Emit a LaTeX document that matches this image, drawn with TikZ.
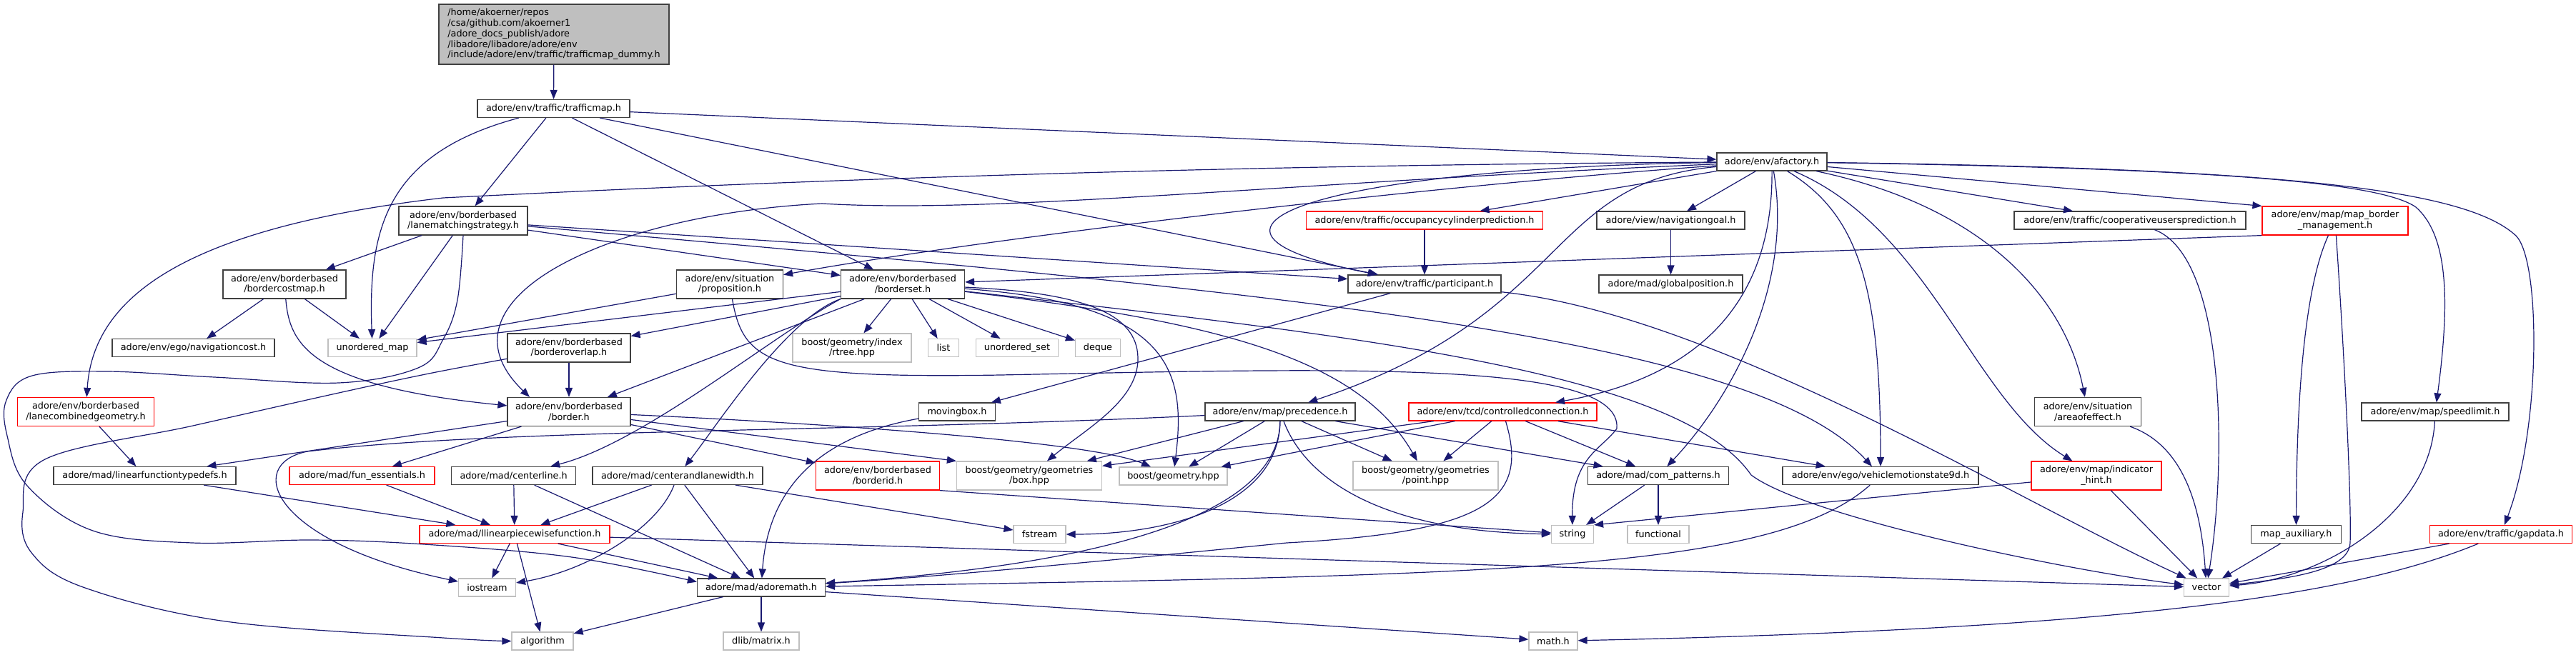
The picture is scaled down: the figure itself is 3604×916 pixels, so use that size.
\documentclass[tikz,border=0pt]{standalone}
\usepackage{fontspec}
\setmainfont{DejaVu Sans}
\usetikzlibrary{arrows.meta,calc}
\definecolor{edgeblue}{HTML}{191970}
\definecolor{sysgray}{HTML}{BFBFBF}
\tikzstyle{hdr} = [rectangle, draw=black!75, fill=white, line width=1.2pt, inner sep=0pt, align=center, minimum height=25pt]
\tikzstyle{tall} = [minimum height=40pt]
\tikzstyle{trunc} = [hdr, draw=red]
\tikzstyle{sys} = [hdr, draw=sysgray]
\tikzstyle{arrow} = [edgeblue, line width=1.2pt, -{Triangle[length=13pt,width=10pt]}]

\begin{document}
\begin{tikzpicture}[x=1pt, y=-1pt, font=\fontsize{12.8}{14.8}\selectfont]
    \useasboundingbox (0,0) rectangle (3604,916);
    \fill[white] (0,0) rectangle (3604,916);

    \node[hdr, fill=sysgray, align=left, minimum width=322pt, minimum height=84pt] (root) at (775,48) {/home/akoerner/repos\\/csa/github.com/akoerner1\\/adore\_docs\_publish/adore\\/libadore/libadore/adore/env\\/include/adore/env/traffic/trafficmap\_dummy.h};
    \node[hdr, minimum width=213pt] (trafficmap) at (774.5,152) {adore/env/traffic/trafficmap.h};
    \node[hdr, tall, minimum width=180pt] (lanematch) at (648,309) {adore/env/borderbased\\/lanematchingstrategy.h};
    \node[hdr, tall, minimum width=172pt] (costmap) at (398,398) {adore/env/borderbased\\/bordercostmap.h};
    \node[hdr, tall, minimum width=149pt] (proposition) at (1021,398) {adore/env/situation\\/proposition.h};
    \node[hdr, tall, minimum width=173pt] (borderset) at (1263,398) {adore/env/borderbased\\/borderset.h};
    \node[hdr, minimum width=154pt] (afactory) at (2479,226.5) {adore/env/afactory.h};
    \node[trunc, minimum width=331pt] (occupancy) at (1993,308.5) {adore/env/traffic/occupancycylinderprediction.h};
    \node[hdr, minimum width=207pt] (navgoal) at (2337.5,308.5) {adore/view/navigationgoal.h};
    \node[hdr, minimum width=324pt] (coopusers) at (2980,308.5) {adore/env/traffic/cooperativeusersprediction.h};
    \node[trunc, tall, minimum width=204pt] (mapborder) at (3267,309) {adore/env/map/map\_border\\\_management.h};
    \node[hdr, minimum width=214pt] (participant) at (1993,397.5) {adore/env/traffic/participant.h};
    \node[hdr, minimum width=201pt] (globalpos) at (2337.5,397.5) {adore/mad/globalposition.h};
    \node[hdr, minimum width=227pt] (navcost) at (270.5,487) {adore/env/ego/navigationcost.h};
    \node[sys, minimum width=124pt] (umap) at (521,487) {unordered\_map};
    \node[hdr, tall, minimum width=172pt] (overlap) at (796,487) {adore/env/borderbased\\/borderoverlap.h};
    \node[sys, tall, minimum width=166pt] (rtree) at (1192,487) {boost/geometry/index\\/rtree.hpp};
    \node[sys, minimum width=43pt] (list) at (1320,487) {list};
    \node[sys, minimum width=115pt] (uset) at (1423,487) {unordered\_set};
    \node[sys, minimum width=63pt] (deque) at (1536,487) {deque};
    \node[trunc, tall, minimum width=191pt] (lanecomb) at (120,576.5) {adore/env/borderbased\\/lanecombinedgeometry.h};
    \node[hdr, tall, minimum width=172pt] (border) at (796,576.5) {adore/env/borderbased\\/border.h};
    \node[hdr, minimum width=107pt] (movingbox) at (1339,576.5) {movingbox.h};
    \node[hdr, minimum width=210pt] (precedence) at (1791,576.5) {adore/env/map/precedence.h};
    \node[trunc, minimum width=263pt] (controlled) at (2102.5,576.5) {adore/env/tcd/controlledconnection.h};
    \node[hdr, tall, minimum width=149pt] (areaeffect) at (2921,576.5) {adore/env/situation\\/areaofeffect.h};
    \node[hdr, minimum width=206pt] (speedlimit) at (3407,576.5) {adore/env/map/speedlimit.h};
    \node[hdr, minimum width=255pt] (lintypedefs) at (202.5,666) {adore/mad/linearfunctiontypedefs.h};
    \node[trunc, minimum width=203pt] (funess) at (506.5,666) {adore/mad/fun\_essentials.h};
    \node[hdr, minimum width=174pt] (centerline) at (718.6,666) {adore/mad/centerline.h};
    \node[hdr, minimum width=238pt] (centerwidth) at (948,666) {adore/mad/centerandlanewidth.h};
    \node[trunc, tall, minimum width=173pt] (borderid) at (1228,666) {adore/env/borderbased\\/borderid.h};
    \node[sys, tall, minimum width=203pt] (boxhpp) at (1440,666) {boost/geometry/geometries\\/box.hpp};
    \node[sys, minimum width=151pt] (geomhpp) at (1641.5,666.5) {boost/geometry.hpp};
    \node[sys, tall, minimum width=203pt] (pointhpp) at (1994.5,666) {boost/geometry/geometries\\/point.hpp};
    \node[hdr, minimum width=197pt] (compatterns) at (2320,666) {adore/mad/com\_patterns.h};
    \node[hdr, minimum width=274pt] (motionstate) at (2631,666) {adore/env/ego/vehiclemotionstate9d.h};
    \node[trunc, tall, minimum width=182pt] (indicator) at (2933,666) {adore/env/map/indicator\\\_hint.h};
    \node[trunc, minimum width=266pt] (piecewise) at (720,748) {adore/mad/llinearpiecewisefunction.h};
    \node[sys, minimum width=73pt] (fstream) at (1454.5,748) {fstream};
    \node[sys, minimum width=59pt] (string) at (2200,748) {string};
    \node[sys, minimum width=86pt] (functional) at (2320,748) {functional};
    \node[hdr, minimum width=126pt] (mapaux) at (3212.5,748) {map\_auxiliary.h};
    \node[trunc, minimum width=199pt] (gapdata) at (3499,748) {adore/env/traffic/gapdata.h};
    \node[sys, minimum width=80pt] (iostream) at (681.5,822.5) {iostream};
    \node[hdr, minimum width=179pt] (adoremath) at (1065,822.5) {adore/mad/adoremath.h};
    \node[sys, minimum width=63pt] (vector) at (3087,822.5) {vector};
    \node[sys, minimum width=86pt] (algorithm) at (759,897.5) {algorithm};
    \node[sys, minimum width=106pt] (dlib) at (1065,897.5) {dlib/matrix.h};
    \node[sys, minimum width=68pt] (mathh) at (2173,897.5) {math.h};

    \draw[arrow] (root) -- (trafficmap);
    \draw[arrow] (trafficmap) .. controls (540,215) and (515,320) .. (umap);
    \draw[arrow] (trafficmap) -- (lanematch);
    \draw[arrow] (trafficmap) -- (borderset);
    \draw[arrow] (trafficmap) -- (participant);
    \draw[arrow] (trafficmap) -- (afactory);

    \draw[arrow] (lanematch) -- (costmap);
    \draw[arrow] (lanematch) -- (umap);
    \draw[arrow] (lanematch) -- (borderset);
    \draw[arrow] (lanematch) -- (participant);
    \draw[arrow] (lanematch) .. controls (1800,410) and (2450,470) .. (motionstate);
    \draw[arrow] plot[smooth, tension=0.6] coordinates {(lanematch.south) (640,420) (620,475) (585,515) (474,536) (300,528) (150,520) (45,526) (9,560) (10,610) (38,680) (130,743) (269,760) (435,756) (593,762) (800,780) (adoremath.175)};

    \draw[arrow] (costmap) -- (navcost);
    \draw[arrow] (costmap) -- (umap);
    \draw[arrow] (costmap) .. controls (405,480) and (430,540) .. (border);

    \draw[arrow] (afactory) .. controls (1600,232) and (1000,258) .. (620,277) .. controls (250,320) and (130,420) .. (lanecomb);
    \draw[arrow] (afactory) .. controls (1800,255) and (1400,300) .. (1150,285) .. controls (850,300) and (600,420) .. ($(border.north)+(-55,0)$);
    \draw[arrow] (afactory) .. controls (2000,260) and (1400,330) .. (proposition);
    \draw[arrow] (afactory) -- (occupancy);
    \draw[arrow] (afactory) .. controls (1850,235) and (1600,320) .. (participant);
    \draw[arrow] (afactory) -- (navgoal);
    \draw[arrow] (afactory) .. controls (2160,255) and (2200,440) .. (precedence);
    \draw[arrow] (afactory) .. controls (2480,380) and (2420,520) .. (controlled);
    \draw[arrow] (afactory) .. controls (2510,400) and (2420,560) .. (compatterns);
    \draw[arrow] (afactory) .. controls (2600,300) and (2631,400) .. (motionstate);
    \draw[arrow] (afactory) .. controls (2700,320) and (2760,560) .. (indicator);
    \draw[arrow] (afactory) .. controls (2780,290) and (2890,420) .. (areaeffect);
    \draw[arrow] (afactory) -- (coopusers);
    \draw[arrow] (afactory) -- (mapborder.north west);
    \draw[arrow] (afactory) .. controls (3100,236) and (3330,255) .. (3380,290) .. controls (3425,330) and (3428,420) .. (speedlimit);
    \draw[arrow] (afactory) .. controls (3200,236) and (3450,265) .. (3520,330) .. controls (3555,365) and (3555,600) .. (gapdata);

    \draw[arrow] (proposition) -- (umap);
    \draw[arrow] (proposition) .. controls (1040,510) and (1080,530) .. (1400,525) .. controls (1900,515) and (2270,505) .. (2262,600) .. controls (2240,630) and (2199,640) .. (string);

    \draw[arrow] (borderset) -- (umap);
    \draw[arrow] (borderset) -- (overlap);
    \draw[arrow] (borderset) -- (border);
    \draw[arrow] (borderset) -- (rtree);
    \draw[arrow] (borderset) -- (list);
    \draw[arrow] (borderset) -- (uset);
    \draw[arrow] (borderset) -- (deque);
    \draw[arrow] (borderset) .. controls (1520,410) and (1590,440) .. (1592,500) .. controls (1594,560) and (1520,600) .. (boxhpp);
    \draw[arrow] (borderset) .. controls (1640,425) and (1660,520) .. (geomhpp);
    \draw[arrow] (borderset) .. controls (1700,450) and (1900,500) .. (pointhpp);
    \draw[arrow] (borderset.south west) .. controls (1080,470) and (900,620) .. (centerline);
    \draw[arrow] (borderset.south west) .. controls (1100,445) and (1000,600) .. (centerwidth);
    \draw[arrow] (borderset) .. controls (1900,470) and (2350,520) .. (2450,665) .. controls (2530,725) and (2900,800) .. (vector);

    \draw[arrow] (occupancy) -- (participant);
    \draw[arrow] (navgoal) -- (globalpos);
    \draw[arrow] (participant) -- (movingbox);
    \draw[arrow] (participant) .. controls (2400,440) and (2820,700) .. (vector);
    \draw[arrow] (coopusers) .. controls (3115,360) and (3115,650) .. (vector);
    \draw[arrow] (mapborder.south west) -- (borderset);
    \draw[arrow] (mapborder) .. controls (3225,400) and (3213,550) .. (mapaux);
    \draw[arrow] (mapborder) .. controls (3280,500) and (3290,700) .. (3288,760) .. controls (3286,800) and (3200,810) .. (vector);

    \draw[arrow] (overlap) -- (border);
    \draw[arrow] plot[smooth, tension=0.6] coordinates {(overlap.190) (600,523) (474,550) (270,596) (63,643) (32,717) (45,775) (119,823) (316,870) (620,893) (algorithm.west)};

    \draw[arrow] (border) -- (lintypedefs);
    \draw[arrow] (border) -- (funess);
    \draw[arrow] (border) -- (borderid);
    \draw[arrow] (border) -- (boxhpp.north west);
    \draw[arrow] (border) .. controls (1200,595) and (1530,620) .. (geomhpp);
    \draw[arrow] (movingbox) .. controls (1150,610) and (1075,680) .. (adoremath);

    \draw[arrow] (precedence) .. controls (1200,605) and (700,600) .. (430,632) .. controls (340,650) and (380,760) .. (iostream);
    \draw[arrow] (precedence) -- (boxhpp);
    \draw[arrow] (precedence) -- (geomhpp);
    \draw[arrow] (precedence) .. controls (1790,720) and (1550,790) .. (adoremath);
    \draw[arrow] (precedence) .. controls (1790,700) and (1650,748) .. (fstream);
    \draw[arrow] (precedence) .. controls (1830,680) and (1950,745) .. (string);
    \draw[arrow] (precedence) -- (pointhpp);
    \draw[arrow] (precedence) -- (compatterns);

    \draw[arrow] (controlled) -- (boxhpp);
    \draw[arrow] (controlled) -- (geomhpp);
    \draw[arrow] (controlled) -- (pointhpp);
    \draw[arrow] (controlled) .. controls (2140,700) and (2080,745) .. (1800,760) .. controls (1500,790) and (1300,808) .. (adoremath);
    \draw[arrow] (controlled) -- (compatterns);
    \draw[arrow] (controlled) -- (motionstate);

    \draw[arrow] (lanecomb) -- (lintypedefs);
    \draw[arrow] (lintypedefs) -- (piecewise);
    \draw[arrow] (funess) -- (piecewise);
    \draw[arrow] (centerline) -- (piecewise);
    \draw[arrow] (centerline) -- (adoremath);
    \draw[arrow] (centerwidth) -- (piecewise);
    \draw[arrow] (centerwidth) -- (adoremath);
    \draw[arrow] (centerwidth) .. controls (920,740) and (820,800) .. (iostream);
    \draw[arrow] (centerwidth) -- (fstream);
    \draw[arrow] (borderid.south east) -- (string);
    \draw[arrow] (compatterns) -- (string);
    \draw[arrow] (compatterns) -- (functional);
    \draw[arrow] (motionstate) .. controls (2480,800) and (2100,805) .. (adoremath);
    \draw[arrow] (areaeffect) .. controls (3060,625) and (3080,720) .. (vector);
    \draw[arrow] (indicator) -- (string.north east);
    \draw[arrow] (indicator) -- (vector);
    \draw[arrow] (mapaux) -- (vector);
    \draw[arrow] (speedlimit) .. controls (3400,720) and (3250,810) .. (vector);
    \draw[arrow] (gapdata) -- (vector);
    \draw[arrow] (gapdata) .. controls (3300,830) and (3000,880) .. (mathh);

    \draw[arrow] (piecewise) -- (iostream);
    \draw[arrow] (piecewise) -- (algorithm);
    \draw[arrow] (piecewise) -- (adoremath);
    \draw[arrow] (piecewise) -- (vector);
    \draw[arrow] (adoremath) -- (algorithm);
    \draw[arrow] (adoremath) -- (dlib);
    \draw[arrow] (adoremath) -- (mathh);
\end{tikzpicture}
\end{document}
